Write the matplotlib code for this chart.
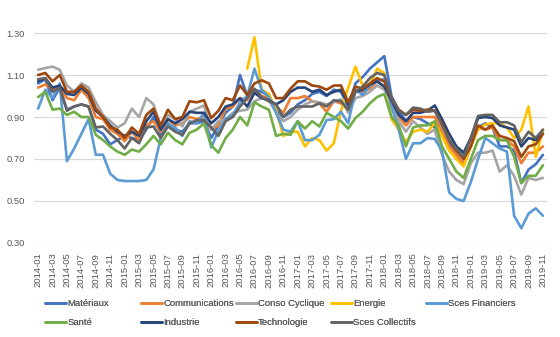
import numpy as np
import matplotlib
matplotlib.use("Agg")
import matplotlib.pyplot as plt

plt.rcParams["font.family"] = ["Liberation Sans", "DejaVu Sans"]

# months 2014-01 .. 2019-11
years = [2014, 2015, 2016, 2017, 2018, 2019]
months = [f"{y}-{m:02d}" for y in years for m in range(1, 13)][:71]

nan = np.nan

materiaux = [
    1.06, 1.08, 0.98, 1.04, 0.935, 0.95, 0.96, 0.95, 0.84, 0.82, 0.77, 0.79, 0.81,
    0.80, 0.79, 0.84, 0.90, 0.82, 0.87, 0.84, 0.83, 0.87, 0.87, 0.88, 0.80, 0.86,
    0.92, 0.95, 1.10, 1.00, 1.03, 1.02, 1.00, 0.93, 0.90, 0.92, 0.96, 0.98, 1.01,
    1.02, 1.00, 1.03, 1.02, 0.95, 1.06, 1.09, 1.13, 1.16, 1.19,
    1.00, 0.93, 0.88, 0.90, 0.89, 0.87, 0.85, 0.82, 0.78, 0.72, 0.67, 0.76, 0.85,
    0.87, 0.85, 0.76, 0.76, 0.74, 0.585, 0.65, 0.675, 0.72,
]
communications = [
    1.04, 1.055, 1.03, 1.04, 0.99, 0.98, 1.03, 0.99, 0.90, 0.89, 0.84, 0.82, 0.785,
    0.83, 0.79, 0.86, 0.88, 0.83, 0.89, 0.86, 0.87, 0.90, 0.89, 0.90, 0.84, 0.86,
    0.94, 0.95, 0.99, 0.98, 1.03, 1.00, 0.99, 0.95, 0.92, 0.99, 0.99, 1.00, 0.975,
    0.965, 0.925, 0.975, 0.965, 0.935, 1.03, 1.02, 1.035, 1.07, 1.045,
    0.97, 0.90, 0.86, 0.90, 0.90, 0.90, 0.90, 0.83, 0.76, 0.72, 0.68, 0.76, 0.85,
    0.84, 0.85, 0.79, 0.79, 0.76, 0.68, 0.73, 0.73, 0.76,
]
conso_cyclique = [
    1.125, 1.133, 1.14, 1.125, 1.05, 1.02, 1.06, 1.04, 0.97, 0.91, 0.88, 0.85, 0.87,
    0.94, 0.90, 0.99, 0.96, 0.855, 0.91, 0.89, 0.855, 0.925, 0.94, 0.955, 0.84, 0.88,
    0.89, 0.92, 0.93, 0.935, 0.975, 0.99, 0.98, 0.92, 0.88, 0.90, 0.935, 0.96, 0.975,
    0.97, 0.96, 0.97, 0.985, 0.92, 0.99, 1.00, 1.02, 1.05, 1.03,
    0.97, 0.88, 0.83, 0.88, 0.85, 0.82, 0.84, 0.72, 0.64, 0.60, 0.58, 0.68, 0.73,
    0.73, 0.74, 0.64, 0.67, 0.62, 0.53, 0.61, 0.60, 0.61,
]
energie = [nan] * 29 + [
    1.13, 1.28, 1.03, 1.01, 0.93, 0.81, 0.83, 0.83, 0.76, 0.80,
    0.79, 0.74, 0.775, 0.93, 1.04, 1.14, 1.05, 1.05, 1.13, 1.11,
    0.89, 0.84, 0.78, 0.83, 0.84, 0.83, 0.87, 0.81, 0.74, 0.70, 0.665, 0.76, 0.84,
    0.865, 0.87, 0.87, 0.85, 0.80, 0.84, 0.95, 0.71, 0.84,
]
sces_financiers = [
    0.94, 1.03, 0.99, 1.06, 0.69, 0.75, 0.82, 0.89, 0.72, 0.72, 0.63, 0.60, 0.595,
    0.595, 0.595, 0.60, 0.65, 0.80, 0.865, 0.85, 0.81, 0.88, 0.87, 0.92, 0.755, 0.835,
    0.89, 0.91, 0.97, 1.00, 1.13, 1.03, 0.995, 0.92, 0.84, 0.83, 0.88, 0.79, 0.79,
    0.815, 0.885, 0.89, 0.925, 0.87, 1.03, 1.005, 1.05, 1.07, 1.08,
    0.95, 0.84, 0.70, 0.775, 0.775, 0.80, 0.795, 0.74, 0.54, 0.51, 0.50, 0.59, 0.70,
    0.80, 0.775, 0.75, 0.735, 0.43, 0.37, 0.44, 0.465, 0.43,
]
sante = [
    0.995, 1.02, 0.935, 0.94, 0.91, 0.925, 0.90, 0.90, 0.815, 0.79, 0.76, 0.735, 0.72,
    0.745, 0.735, 0.77, 0.81, 0.77, 0.825, 0.79, 0.77, 0.825, 0.84, 0.87, 0.765, 0.73,
    0.80, 0.84, 0.90, 0.86, 0.97, 0.95, 0.935, 0.81, 0.82, 0.815, 0.88, 0.845, 0.88,
    0.855, 0.92, 0.90, 0.88, 0.845, 0.895, 0.925, 0.965, 0.995, 1.01,
    0.90, 0.86, 0.76, 0.85, 0.86, 0.86, 0.88, 0.76, 0.70, 0.64, 0.61, 0.70, 0.79,
    0.81, 0.81, 0.79, 0.79, 0.71, 0.585, 0.62, 0.62, 0.67,
]
industrie = [
    1.07, 1.085, 1.04, 1.05, 1.01, 1.005, 1.04, 1.01, 0.93, 0.90, 0.86, 0.83, 0.81,
    0.83, 0.81, 0.88, 0.925, 0.84, 0.89, 0.87, 0.89, 0.925, 0.92, 0.92, 0.87, 0.90,
    0.95, 0.96, 0.99, 0.95, 1.015, 0.99, 0.98, 0.96, 0.98, 1.02, 1.04, 1.04, 1.02,
    1.03, 1.005, 1.02, 1.03, 0.96, 1.02, 1.03, 1.055, 1.07, 1.045,
    0.98, 0.91, 0.88, 0.92, 0.92, 0.93, 0.955, 0.89, 0.82, 0.76, 0.73, 0.80, 0.895,
    0.90, 0.895, 0.86, 0.85, 0.84, 0.76, 0.80, 0.79, 0.82,
]
technologie = [
    1.10, 1.11, 1.07, 1.10, 1.02, 1.02, 1.05, 1.02, 0.94, 0.90, 0.85, 0.84, 0.80,
    0.85, 0.82, 0.91, 0.94, 0.86, 0.935, 0.89, 0.90, 0.975, 0.97, 0.98, 0.895, 0.93,
    0.99, 0.98, 1.05, 1.005, 1.06, 1.075, 1.06, 0.99, 0.99, 1.035, 1.07, 1.07, 1.05,
    1.045, 1.03, 1.05, 1.05, 0.97, 1.045, 1.035, 1.06, 1.085, 1.07,
    0.99, 0.935, 0.91, 0.935, 0.93, 0.935, 0.93, 0.87, 0.79, 0.74, 0.70, 0.76, 0.86,
    0.84, 0.86, 0.81, 0.80, 0.785, 0.71, 0.76, 0.77, 0.82,
]
sces_collectifs = [
    1.08, 1.085, 1.02, 1.04, 0.93, 0.95, 0.96, 0.95, 0.85, 0.855, 0.82, 0.79, 0.75,
    0.80, 0.775, 0.85, 0.855, 0.80, 0.855, 0.83, 0.815, 0.87, 0.885, 0.885, 0.85, 0.81,
    0.88, 0.90, 0.95, 0.99, 1.035, 0.995, 0.975, 0.96, 0.90, 0.935, 0.95, 0.95, 0.95,
    0.965, 0.95, 0.98, 0.975, 0.935, 1.02, 1.045, 1.085, 1.11, 1.10,
    0.99, 0.93, 0.91, 0.945, 0.94, 0.925, 0.93, 0.86, 0.79, 0.75, 0.71, 0.80, 0.905,
    0.91, 0.91, 0.875, 0.875, 0.86, 0.78, 0.83, 0.80, 0.84,
]

series_names = ["Matériaux", "Communications", "Conso Cyclique", "Energie",
                "Sces Financiers", "Santé", "Industrie", "Technologie",
                "Sces Collectifs"]
series_values = [materiaux, communications, conso_cyclique, energie,
                 sces_financiers, sante, industrie, technologie, sces_collectifs]
series_colors = ["#4472C4", "#ED7D31", "#A5A5A5", "#FFC000", "#5B9BD5",
                 "#70AD47", "#264478", "#9E480E", "#636363"]

text_color = "#595959"
grid_color = "#D9D9D9"

fig = plt.figure(figsize=(5.6, 3.37), dpi=100)
ax = fig.add_axes([0.0616, 0.279, 0.9144, 0.623])

x = np.arange(len(months))
lines = []
for name, vals, col in zip(series_names, series_values, series_colors):
    (ln,) = ax.plot(x, vals, color=col, linewidth=1.9, label=name,
                    solid_joinstyle="round", solid_capstyle="round")
    lines.append(ln)

ax.set_xlim(-0.5, len(months) - 0.5)
ax.set_ylim(0.30, 1.30)
ax.set_yticks(np.arange(0.30, 1.31, 0.20))
ax.yaxis.set_major_formatter(matplotlib.ticker.FormatStrFormatter("%.2f"))
ax.set_xticks(x[::2])
ax.set_xticklabels(months[::2], rotation=90)
ax.tick_params(axis="both", length=0, labelsize=6.8, labelcolor=text_color)
ax.tick_params(axis="x", pad=7)
ax.tick_params(axis="y", pad=7)
ax.grid(axis="y", color=grid_color, linewidth=0.9)
ax.set_axisbelow(True)
for s in ax.spines.values():
    s.set_visible(False)

# legend: 5 columns of fixed width, 2 rows
col_x = [45, 141, 236, 331, 426]
for c, xc in enumerate(col_x):
    idx = [c, c + 5] if c + 5 < len(lines) else [c]
    leg = fig.legend([lines[i] for i in idx], [series_names[i] for i in idx],
                     loc="upper left", bbox_to_anchor=(xc / 560, 1 - 299 / 337),
                     bbox_transform=fig.transFigure, frameon=False,
                     fontsize=6.8, labelcolor=text_color, handlelength=2.2,
                     handletextpad=0.15, labelspacing=1.05, borderpad=0,
                     borderaxespad=0)
    fig.add_artist(leg)

fig.savefig("out.png", dpi=100)
